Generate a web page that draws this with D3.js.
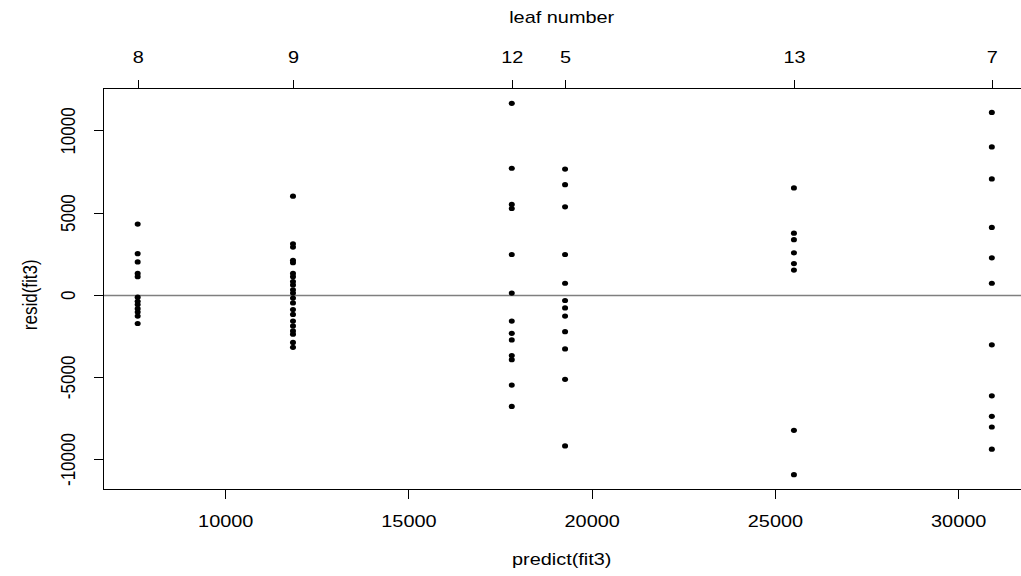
<!DOCTYPE html>
<html>
<head>
<meta charset="utf-8">
<script src="https://cdn.jsdelivr.net/npm/d3@7"></script>
<style>
  html, body { margin: 0; padding: 0; background: #fff; }
  svg { display: block; }
  text { font-family: "Liberation Sans", Arial, Helvetica, sans-serif; fill: #000; }
</style>
</head>
<body>
<svg id="chart" width="1021" height="576"></svg>
<script>
// ---- data ----
const leafLabels = ["8", "9", "12", "5", "13", "7"];
const groupPred = [7611, 11849, 17819, 19273, 25518, 30918];
const resid8  = [4300, 2500, 2000, 1300, 1100, -150, -400, -600, -850, -1050, -1300, -1750];
const resid9  = [6000, 3100, 2900, 2100, 1950, 1300, 1100, 800, 600, 300, 100, -200, -500, -900, -1200, -1600, -1900, -2200, -2400, -2900, -3200];
const resid12 = [11650, 7700, 5500, 5250, 2450, 100, -1600, -2350, -2750, -3700, -3950, -5500, -6800];
const resid5  = [7650, 6700, 5350, 2450, 700, -350, -800, -1300, -2250, -3300, -5150, -9200];
const resid13 = [6500, 3750, 3350, 2550, 1900, 1500, -8250, -10950];
const resid7  = [11100, 9000, 7050, 4100, 2250, 700, -3050, -6150, -7400, -8050, -9400];
const xTicks = [10000, 15000, 20000, 25000, 30000];
const yTicks = [-10000, -5000, 0, 5000, 10000];
const xLabel = "predict(fit3)";
const yLabel = "resid(fit3)";
const topLabel = "leaf number";

(function () {
const groups = [resid8, resid9, resid12, resid5, resid13, resid7];
const points = [];
groups.forEach((g, i) => g.forEach(r => points.push({ x: groupPred[i], y: r })));

// ---- layout ----
const svg = d3.select("#chart");
const pLeft = 103.5, pTop = 88.5, pBottom = 489.5, pRight = 1026;
const sx = 1.17; // horizontal stretch of glyphs
const fs = 17;
const fmt = d => String(d); // plain hyphen-minus like the reference

function padExt(arr) {
  const [a, b] = d3.extent(arr);
  const p = (b - a) * 0.04;
  return [a - p, b + p];
}
const x = d3.scaleLinear().domain(padExt(points.map(d => d.x))).range([pLeft, pRight]);
const y = d3.scaleLinear().domain(padExt(points.map(d => d.y))).range([pBottom, pTop]);

// zero line
svg.append("line")
  .attr("x1", pLeft).attr("x2", pRight)
  .attr("y1", Math.round(y(0)) + 0.5).attr("y2", Math.round(y(0)) + 0.5)
  .attr("stroke", "#7f7f7f").attr("stroke-width", 1.5);

// points
svg.append("g").selectAll("ellipse").data(points).join("ellipse")
  .attr("cx", d => x(d.x)).attr("cy", d => y(d.y))
  .attr("rx", 3.0).attr("ry", 2.6).attr("fill", "#000");

// box
svg.append("rect")
  .attr("x", pLeft).attr("y", pTop)
  .attr("width", pRight - pLeft).attr("height", pBottom - pTop)
  .attr("fill", "none").attr("stroke", "#000").attr("stroke-width", 1)
  .attr("shape-rendering", "crispEdges");

function styleAxis(g) {
  g.select(".domain").remove();
  g.selectAll(".tick line").attr("stroke", "#000").attr("shape-rendering", "crispEdges");
  g.selectAll("text").attr("font-size", fs).attr("font-family", null).attr("fill", "#000");
}

// bottom axis
const gB = svg.append("g").attr("transform", `translate(0,${pBottom})`)
  .call(d3.axisBottom(x).tickValues(xTicks).tickSize(9.5).tickFormat(fmt));
styleAxis(gB);
gB.selectAll("text").attr("y", 37.5).attr("dy", null).attr("transform", `scale(${sx},1)`);

// top axis
const gT = svg.append("g").attr("transform", `translate(0,${pTop})`)
  .call(d3.axisTop(x).tickValues(groupPred).tickSize(9).tickFormat((d, i) => leafLabels[i]));
styleAxis(gT);
gT.selectAll("text").attr("y", -25.5).attr("dy", null).attr("transform", `scale(${sx},1)`);

// left axis
const gL = svg.append("g").attr("transform", `translate(${pLeft},0)`)
  .call(d3.axisLeft(y).tickValues(yTicks).tickSize(9.5).tickFormat(fmt));
styleAxis(gL);
gL.selectAll("text").attr("x", null).attr("dy", null).attr("text-anchor", "middle")
  .attr("transform", `translate(-28.5,0) scale(${sx},1) rotate(-90)`);

// axis titles
svg.append("text").attr("font-size", fs).attr("text-anchor", "middle")
  .attr("transform", `translate(${x(20000) - 30},565) scale(${sx},1)`).text(xLabel);
svg.append("text").attr("font-size", fs).attr("text-anchor", "middle")
  .attr("transform", `translate(${x(20000) - 30},23) scale(${sx},1)`).text(topLabel);
svg.append("text").attr("font-size", fs).attr("text-anchor", "middle")
  .attr("transform", `translate(37,${y(0)}) scale(${sx},1) rotate(-90)`).text(yLabel);
})();
</script>
</body>
</html>
